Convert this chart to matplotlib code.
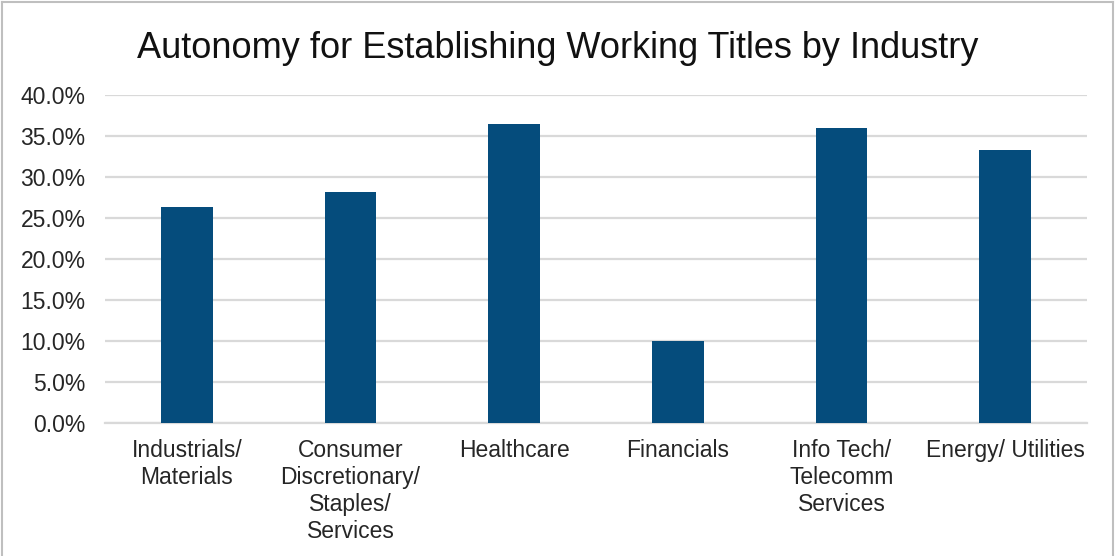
import matplotlib
matplotlib.use("Agg")
import matplotlib.pyplot as plt
from matplotlib.ticker import FuncFormatter, MultipleLocator
from matplotlib.lines import Line2D

plt.rcParams['font.family'] = ['Liberation Sans', 'DejaVu Sans']

# share of respondents with autonomy, per industry
industries = ["Industrials/\nMaterials",
              "Consumer\nDiscretionary/\nStaples/\nServices",
              "Healthcare",
              "Financials",
              "Info Tech/\nTelecomm\nServices",
              "Energy/ Utilities"]
autonomy = [0.263, 0.281, 0.365, 0.100, 0.360, 0.333]

fig = plt.figure(figsize=(11.15, 5.56), dpi=100)
ax = fig.add_axes([0.0942, 0.2401, 0.8807, 0.5890])

x = range(len(industries))
ax.bar(x, autonomy, width=0.315, color="#054C7C", zorder=3)

ax.set_xlim(-0.5, len(industries) - 0.5)
ax.set_ylim(0, 0.4)
ax.yaxis.set_major_locator(MultipleLocator(0.05))
ax.yaxis.set_major_formatter(FuncFormatter(lambda v, _: f"{v * 100:.1f}%"))
ax.grid(axis="y", color="#D9D9D9", linewidth=1.6, zorder=0)
ax.set_axisbelow(True)

for side in ("top", "right", "left"):
    ax.spines[side].set_visible(False)
ax.spines["bottom"].set_color("#D9D9D9")
ax.spines["bottom"].set_linewidth(1.6)

ax.set_xticks(list(x))
ax.set_xticklabels(industries, fontsize=16.5, color="#262626", linespacing=1.22)
ax.tick_params(axis="x", length=0, pad=12)
ax.tick_params(axis="y", length=0, pad=14, labelsize=16.5, labelcolor="#262626")

fig.text(0.5, 0.913, "Autonomy for Establishing Working Titles by Industry",
         ha="center", va="center", fontsize=26, color="#111111")

# thin frame round the chart
for xs, ys in (([0.002, 0.002], [0, 0.997]),
               ([0.002, 0.998], [0.997, 0.997]),
               ([0.998, 0.998], [0, 0.997])):
    fig.add_artist(Line2D(xs, ys, color="#BFBFBF", linewidth=1.5,
                          transform=fig.transFigure))

fig.savefig("out.png", dpi=100, facecolor="white")
